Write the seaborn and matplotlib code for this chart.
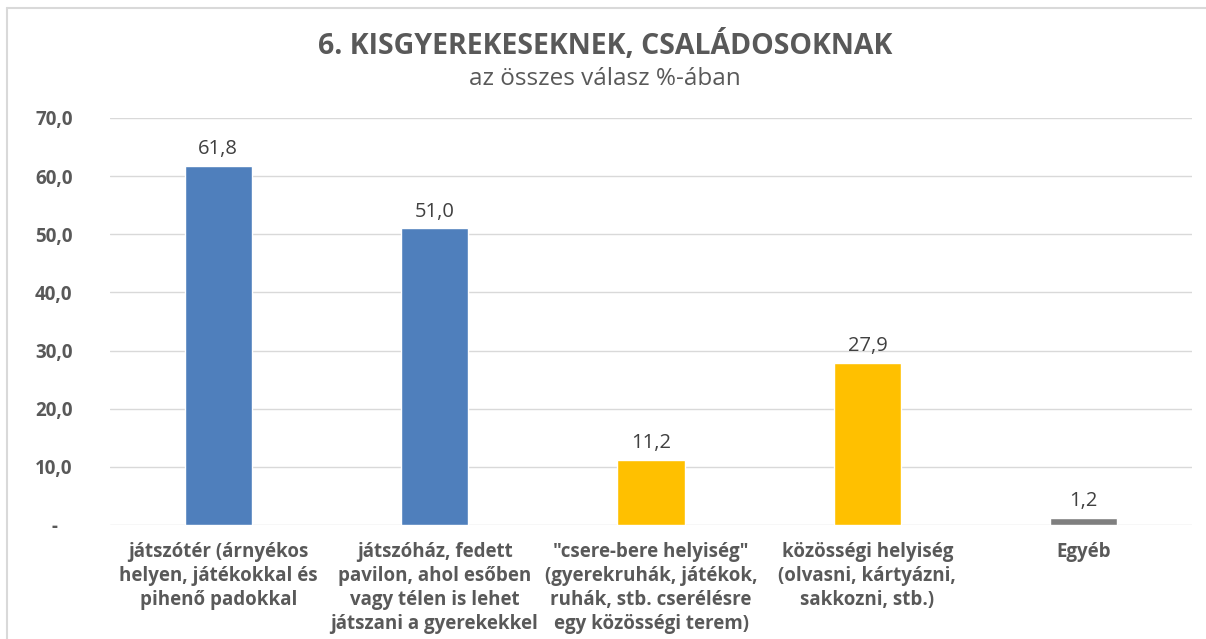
import matplotlib
matplotlib.use("Agg")
import matplotlib.pyplot as plt
import seaborn as sns
import pandas as pd
from matplotlib.ticker import FuncFormatter, MultipleLocator
from matplotlib.lines import Line2D

categories = [
    "játszótér (árnyékos\nhelyen, játékokkal és\npihenő padokkal",
    "játszóház, fedett\npavilon, ahol esőben\nvagy télen is lehet\njátszani a gyerekekkel",
    "\"csere-bere helyiség\"\n(gyerekruhák, játékok,\nruhák, stb. cserélésre\negy közösségi terem)",
    "közösségi helyiség\n(olvasni, kártyázni,\nsakkozni, stb.)",
    "Egyéb",
]
values = [61.8, 51.0, 11.2, 27.9, 1.2]
bar_colors = ["#4F7FBC", "#4F7FBC", "#FFC000", "#FFC000", "#7F7F7F"]
title = "6. KISGYEREKESEKNEK, CSALÁDOSOKNAK"
subtitle = "az összes válasz %-ában"

sns.set_theme(style="white")
plt.rcParams["font.family"] = ["Open Sans", "DejaVu Sans"]

df = pd.DataFrame({"cat": categories, "val": values})

fig = plt.figure(figsize=(12.06, 6.39), dpi=100)
ax = fig.add_axes([110 / 1206, 1 - 525 / 639, (1192 - 110) / 1206, (525 - 118) / 639])

sns.barplot(data=df, x="cat", y="val", hue="cat", palette=bar_colors,
            legend=False, width=0.31, ax=ax, saturation=1)

ax.set_ylim(0, 70)
ax.yaxis.set_major_locator(MultipleLocator(10))
ax.yaxis.set_major_formatter(FuncFormatter(
    lambda v, p: "-   " if abs(v) < 1e-9 else f"{v:.1f}".replace(".", ",")))
ax.grid(axis="y", color="#D9D9D9", linewidth=1)
ax.set_axisbelow(True)
for s in ax.spines.values():
    s.set_visible(False)
ax.set_xlabel("")
ax.set_ylabel("")
ax.tick_params(axis="y", length=0, pad=27, labelsize=13.5, labelcolor="#595959")
ax.tick_params(axis="x", length=0, pad=12, labelsize=13.5, labelcolor="#595959")
for lbl in ax.get_yticklabels():
    lbl.set_fontweight("bold")
for lbl in ax.get_xticklabels():
    lbl.set_fontweight("bold")
    lbl.set_linespacing(1.27)
    lbl.set_verticalalignment("top")

for cont in ax.containers:
    ax.bar_label(cont, labels=[f"{v:.1f}".replace(".", ",") for v in cont.datavalues],
                 padding=5, fontsize=14.5, color="#404040")

fig.text(605 / 1206, 1 - 45 / 639, title, ha="center", va="center",
         fontsize=20.5, fontweight="bold", color="#595959")
fig.text(605 / 1206, 1 - 79 / 639, subtitle, ha="center", va="center",
         fontsize=17.5, color="#595959")

# light frame of the chart area
fig.add_artist(Line2D([7 / 1206, 7 / 1206], [0, 1 - 8 / 639], transform=fig.transFigure,
                      color="#D9D9D9", linewidth=1.5))
fig.add_artist(Line2D([7 / 1206, 1], [1 - 8 / 639, 1 - 8 / 639], transform=fig.transFigure,
                      color="#D9D9D9", linewidth=1.5))

fig.savefig("out.png", dpi=100, facecolor="white")
